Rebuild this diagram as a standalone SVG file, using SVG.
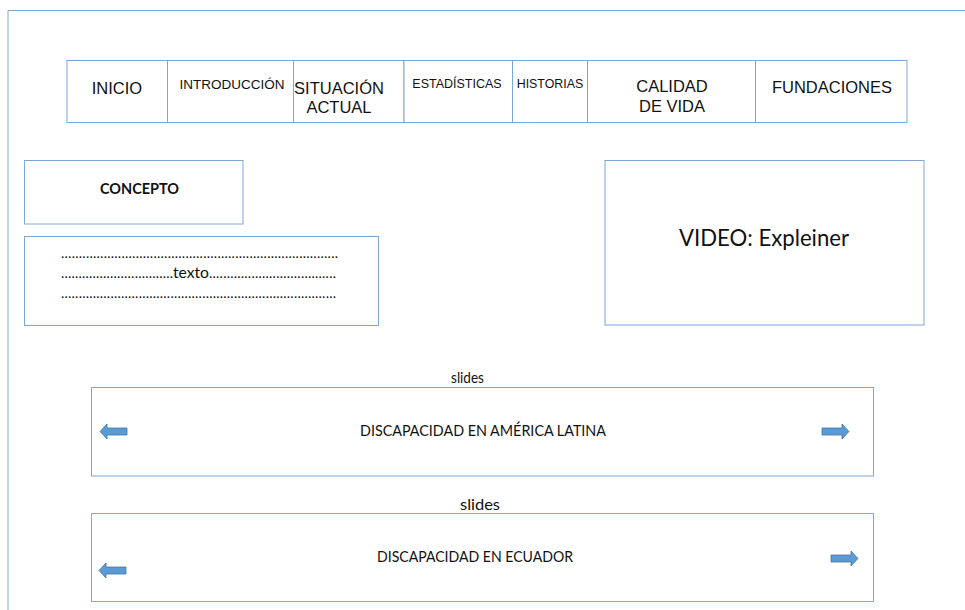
<svg xmlns="http://www.w3.org/2000/svg" width="965" height="610" viewBox="0 0 965 610">
<style>
.box{fill:#fff;stroke:#7ea6d8;stroke-width:1}
.frame{fill:none;stroke:#7ea6d8;stroke-width:1}
.nav{font-family:"Liberation Sans",Arial,sans-serif;fill:#111;text-anchor:middle}
.cal{font-family:Lato,"Open Sans",sans-serif;fill:#111}
.arr{fill:#5b9bd5;stroke:#41719c;stroke-width:0.75}
</style>
<defs>
<path id="rarrow" class="arr" d="M-13.5,-3.5 H6.5 V-7.5 L13.5,0 L6.5,7.5 V3.5 H-13.5 Z"/>
</defs>
<rect width="965" height="610" fill="#fff"/>
<g id="frame">
<path class="frame" d="M8,610 V10.5 H965"/>
</g>
<g id="nav">
<g id="nav-inicio"><rect class="box" x="67" y="60.5" width="100.5" height="62"/><text class="nav" x="117" y="94" font-size="16.5">INICIO</text></g>
<g id="nav-introduccion"><rect class="box" x="167.5" y="60.5" width="126" height="62"/><text class="nav" x="232" y="89" font-size="13.5">INTRODUCCIÓN</text></g>
<g id="nav-situacion"><rect class="box" x="293.5" y="60.5" width="110.5" height="62"/><text class="nav" x="339" y="94.3" font-size="16.5">SITUACIÓN</text><text class="nav" x="339" y="112.7" font-size="16.5">ACTUAL</text></g>
<g id="nav-estadisticas"><rect class="box" x="404" y="60.5" width="108.5" height="62"/><text class="nav" x="457" y="88.3" font-size="12.5">ESTADÍSTICAS</text></g>
<g id="nav-historias"><rect class="box" x="512.5" y="60.5" width="75" height="62"/><text class="nav" x="550" y="87.5" font-size="12.4">HISTORIAS</text></g>
<g id="nav-calidad"><rect class="box" x="587.5" y="60.5" width="168" height="62"/><text class="nav" x="672" y="92.3" font-size="16.5">CALIDAD</text><text class="nav" x="672" y="111.7" font-size="16.5">DE VIDA</text></g>
<g id="nav-fundaciones"><rect class="box" x="755.5" y="60.5" width="151.5" height="62"/><text class="nav" x="832" y="92.7" font-size="16.5">FUNDACIONES</text></g>
</g>
<g id="concepto">
<rect class="box" x="24.5" y="160.5" width="218.5" height="63.5"/>
<text class="cal" x="100" y="194" font-size="15" font-weight="bold" textLength="79" lengthAdjust="spacingAndGlyphs">CONCEPTO</text>
</g>
<g id="texto">
<rect class="box" x="24.5" y="236.5" width="354" height="89"/>
<text class="cal" x="61" y="258" font-size="14" textLength="277" lengthAdjust="spacing">..............................................................................</text>
<text class="cal" x="61" y="277.5" font-size="14" textLength="112" lengthAdjust="spacing">................................</text>
<text class="cal" x="173" y="277.5" font-size="15" textLength="36" lengthAdjust="spacingAndGlyphs">texto</text>
<text class="cal" x="209" y="277.5" font-size="14" textLength="127" lengthAdjust="spacing">....................................</text>
<text class="cal" x="61" y="297.5" font-size="14" textLength="275" lengthAdjust="spacing">..............................................................................</text>
</g>
<g id="video">
<rect class="box" x="605" y="160.5" width="319" height="164.5"/>
<text class="cal" x="679" y="246" font-size="23" textLength="170" lengthAdjust="spacingAndGlyphs">VIDEO: Expleiner</text>
</g>
<g id="slides1">
<text class="cal" x="451" y="383" font-size="15" textLength="33" lengthAdjust="spacingAndGlyphs">slides</text>
<rect class="box" x="91.5" y="387.5" width="782" height="88.5"/>
<text class="cal" x="360" y="436" font-size="15" textLength="246" lengthAdjust="spacingAndGlyphs">DISCAPACIDAD EN AMÉRICA LATINA</text>
<use href="#rarrow" transform="translate(113.5,431.5) scale(-1,1)"/>
<use href="#rarrow" transform="translate(835.5,431.5)"/>
</g>
<g id="slides2">
<text class="cal" x="460" y="510" font-size="15" textLength="40" lengthAdjust="spacingAndGlyphs">slides</text>
<rect class="box" x="91.5" y="513.5" width="782" height="88"/>
<text class="cal" x="377" y="561.5" font-size="15" textLength="196" lengthAdjust="spacingAndGlyphs">DISCAPACIDAD EN ECUADOR</text>
<use href="#rarrow" transform="translate(112.5,570.5) scale(-1,1)"/>
<use href="#rarrow" transform="translate(844.5,558.5)"/>
</g>
</svg>
